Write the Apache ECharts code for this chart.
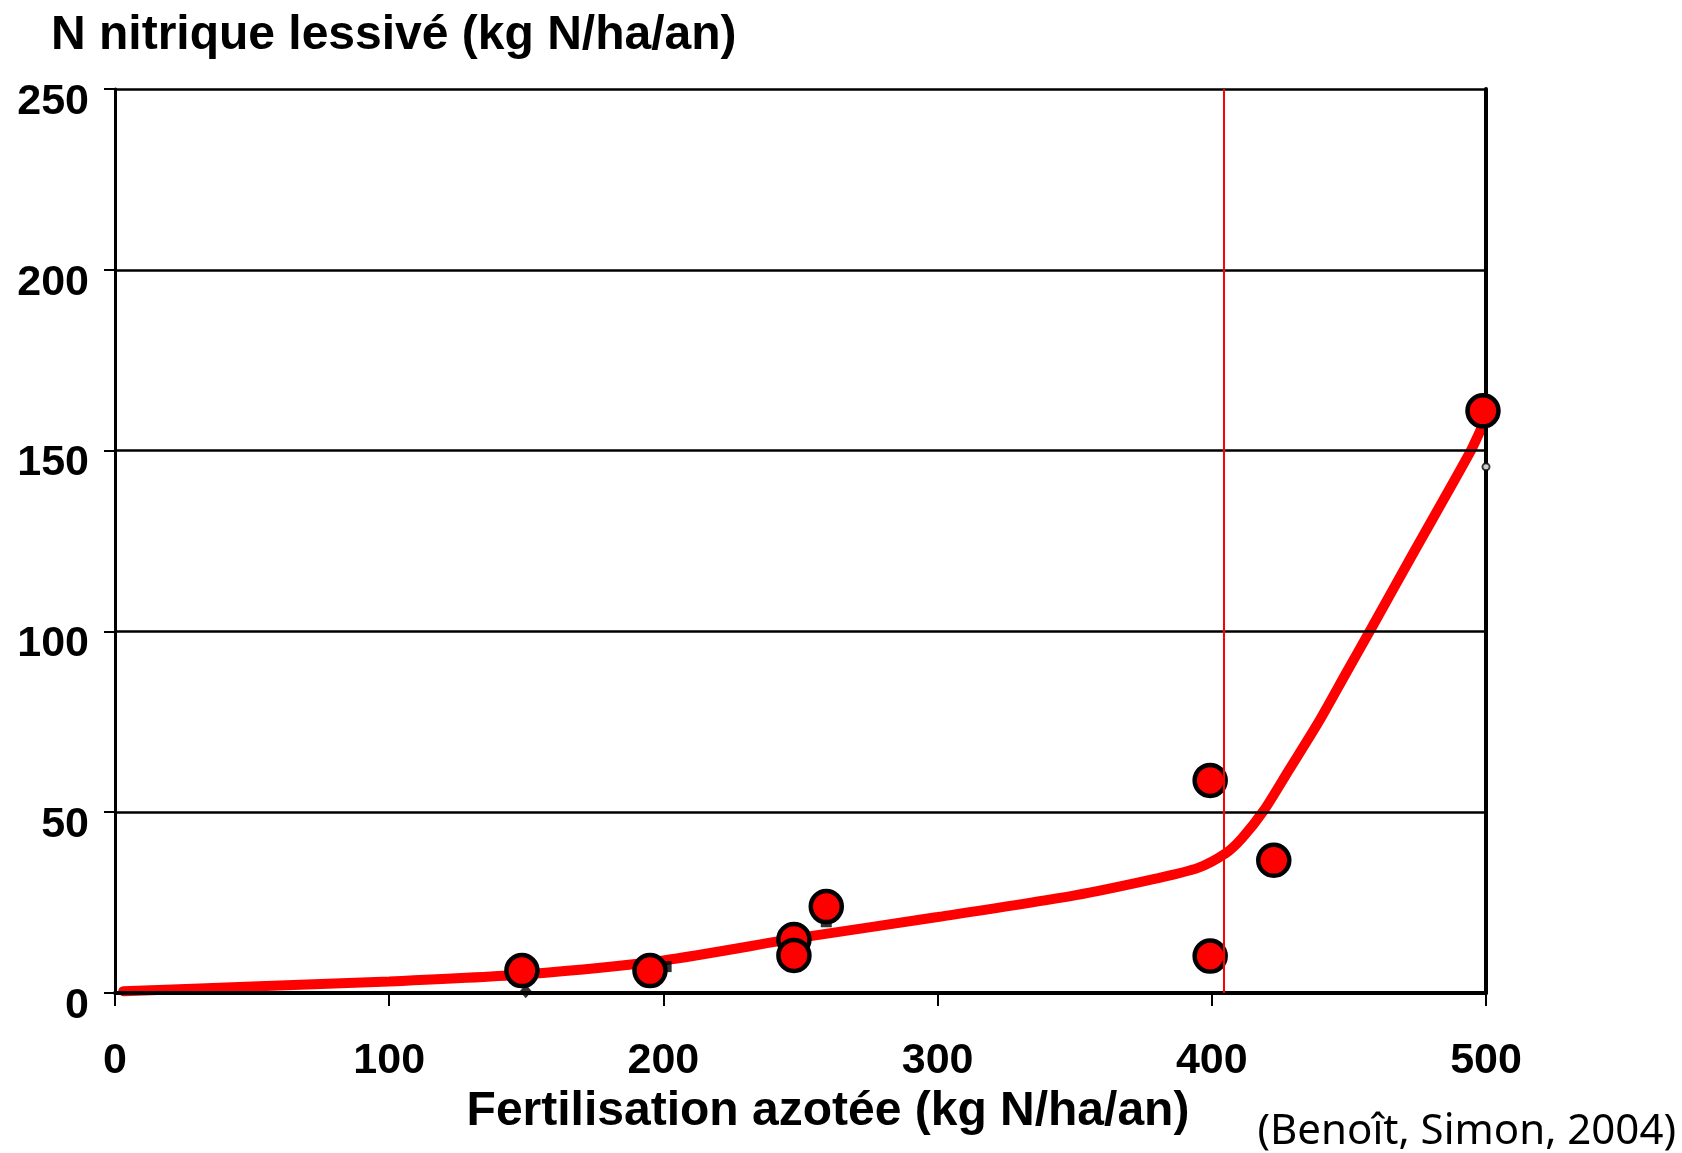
<!DOCTYPE html>
<html>
<head>
<meta charset="utf-8">
<script src="https://cdn.jsdelivr.net/npm/echarts@6/dist/echarts.min.js"></script>
<style>
html,body{margin:0;padding:0;background:#fff;}
#chart{width:1682px;height:1153px;}
</style>
</head>
<body>
<div id="chart"></div>
<script>
// ---- data ----
const yTitle = 'N nitrique lessivé (kg N/ha/an)';
const xTitle = 'Fertilisation azotée (kg N/ha/an)';
const sourceNote = '(Benoît, Simon, 2004)';

const xMin = 0, xMax = 500, xStep = 100;
const yMin = 0, yMax = 250, yStep = 50;

// observed points
const fertX  = [148.4, 195.1, 247.6, 247.6, 259.4, 399.4, 399.4, 422.6, 498.9];
const leachY = [6.2,   6.2,   14.8,  10.4,  23.9,  58.8,  10.2,  36.7,  161];

// fitted response curve
const curveX = [3,   50,  100, 150, 200, 250,  300, 350, 380,  395,  405,  411,  419,  428,  439, 449,  458,   473, 494,   498.5];
const curveY = [0.5, 1.8, 3.2, 5.2, 9.0, 15.3, 21,  27,  31.7, 34.6, 38.6, 42.8, 50.5, 61.5, 75,  88.5, 100.6, 121, 149.3, 156.5];

// threshold (vertical red line)
const thresholdX = 404.3;

// small residual markers
const diamondPts = [[149.8, 0.5]];
const squarePts  = [[201, 7.3], [259.4, 19.7]];
const ringPts    = [[500, 145.5]];

// ---- chart ----
const FONT = '"Liberation Sans", Arial, sans-serif';
const pair = (xs, ys) => xs.map((x, i) => [x, ys[i]]);

const chart = echarts.init(document.getElementById('chart'), null, {renderer: 'canvas'});
chart.setOption({
  animation: false,
  backgroundColor: '#fff',
  grid: {left: 115, right: 196, top: 89, bottom: 160, outerBoundsMode: 'none', containLabel: false},
  xAxis: {
    type: 'value', min: xMin, max: xMax, interval: xStep, z: 2,
    axisLine: {show: true, onZero: false, lineStyle: {color: '#000', width: 4}},
    axisTick: {show: true, inside: false, length: 13, lineStyle: {color: '#000', width: 2}},
    axisLabel: {color: '#000', fontFamily: FONT, fontWeight: 'bold', fontSize: 43, margin: 47},
    splitLine: {show: false}
  },
  yAxis: [{
    type: 'value', min: yMin, max: yMax, interval: yStep, z: 2,
    axisLine: {show: true, onZero: false, lineStyle: {color: '#000', width: 3}},
    axisTick: {show: true, inside: false, length: 11, lineStyle: {color: '#000', width: 2}},
    axisLabel: {color: '#000', fontFamily: FONT, fontWeight: 'bold', fontSize: 43, margin: 26,
                verticalAlign: 'top', lineHeight: 26},
    splitLine: {show: true, lineStyle: {color: '#000', width: 2.5}}
  }, {
    type: 'value', min: yMin, max: yMax, interval: yStep, position: 'right', z: 2,
    axisLine: {show: true, onZero: false, lineStyle: {color: '#000', width: 4}},
    axisTick: {show: false}, axisLabel: {show: false}, splitLine: {show: false}
  }],
  graphic: [
    {type: 'text', x: 51, y: 36, z: 10,
     style: {text: yTitle, fill: '#000', font: 'bold 48px ' + FONT, textAlign: 'left', textVerticalAlign: 'middle'}},
    {type: 'text', x: 828, y: 1112, z: 10,
     style: {text: xTitle, fill: '#000', font: 'bold 48px ' + FONT, textAlign: 'center', textVerticalAlign: 'middle'}},
    {type: 'text', x: 1676, y: 1132, z: 10,
     style: {text: sourceNote, fill: '#000', font: '42px "Noto Sans", "Open Sans", sans-serif', textAlign: 'right', textVerticalAlign: 'middle'}}
  ],
  series: [
    {
      type: 'line', name: 'curve', z: 1,
      data: pair(curveX, curveY),
      smooth: 0.25,
      showSymbol: false, symbol: 'none',
      lineStyle: {color: '#ff0000', width: 10, cap: 'round'},
      silent: true
    },
    {
      type: 'scatter', name: 'obs', z: 4,
      data: pair(fertX, leachY),
      symbol: 'circle', symbolSize: 31,
      itemStyle: {color: '#ff0000', borderColor: '#000', borderWidth: 4.5, opacity: 1},
      markLine: {
        silent: true, symbol: ['none', 'none'], label: {show: false}, z: 5,
        lineStyle: {color: '#ff0000', width: 2, type: 'solid'},
        data: [{xAxis: thresholdX}]
      }
    },
    {
      type: 'scatter', name: 'diamond', z: 3, clip: false,
      data: diamondPts, symbol: 'diamond', symbolSize: [12, 14],
      itemStyle: {color: '#000'}
    },
    {
      type: 'scatter', name: 'squares', z: 3,
      data: squarePts, symbol: 'rect', symbolSize: 11,
      itemStyle: {color: '#000'}
    },
    {
      type: 'scatter', name: 'ring', z: 5, clip: false,
      data: ringPts, symbol: 'circle', symbolSize: 7,
      itemStyle: {color: '#fff', borderColor: '#000', borderWidth: 2}
    }
  ]
});
</script>
</body>
</html>
